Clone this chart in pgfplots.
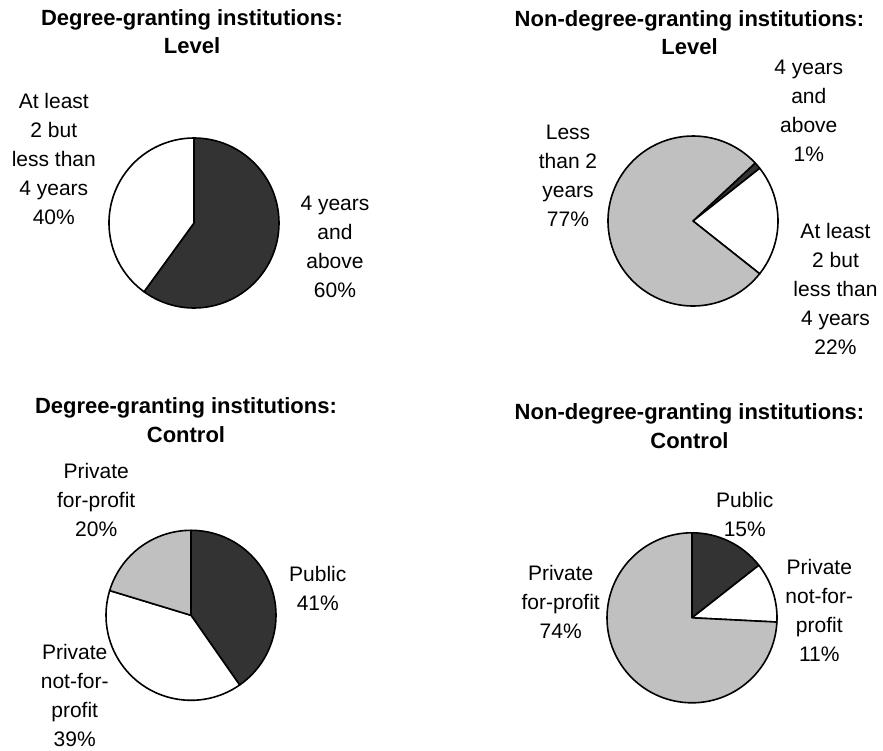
\documentclass[border=0pt]{standalone}
\usepackage{fontspec}
\setmainfont{Liberation Sans}
\usepackage{pgfplots}
\usepackage{pgfplotstable}
\pgfplotsset{compat=1.18}
\definecolor{dk}{HTML}{333333}
\definecolor{lg}{HTML}{C0C0C0}
\tikzset{
  lab/.style={inner sep=0pt,align=center,font=\fontsize{21}{29}\selectfont},
  ttl/.style={inner sep=0pt,align=center,font=\bfseries\fontsize{22}{28.5}\selectfont}}

% value = percent of the pie, col = fill colour; slices run clockwise
\pgfplotstableread{
value col
60.0 dk
40.0 white
}\degLevel
\pgfplotstableread{
value col
1.3 dk
21.3 white
77.4 lg
}\nondegLevel
\pgfplotstableread{
value col
40.3 dk
39.4 white
20.3 lg
}\degControl
\pgfplotstableread{
value col
14.4 dk
11.4 white
74.2 lg
}\nondegControl

\def\pieR{85pt}
% #1 table, #2 cx, #3 cy, #4 start angle
\newcommand\pie[4]{%
  \pgfplotstablegetrowsof{#1}%
  \pgfmathtruncatemacro\lastrow{\pgfplotsretval-1}%
  \pgfmathsetmacro\cur{#4}%
  \pgfplotsforeachungrouped \i in {0,...,\lastrow}{%
    \pgfplotstablegetelem{\i}{value}\of{#1}\let\v\pgfplotsretval
    \pgfplotstablegetelem{\i}{col}\of{#1}\let\c\pgfplotsretval
    \pgfmathsetmacro\nxt{\cur-3.6*\v}%
    \edef\temp{\noexpand\filldraw[fill=\c,draw=black,line width=1.6pt,line join=round]
      (axis cs:#2,#3) -- ++(\cur:\pieR) arc[start angle=\cur,end angle=\nxt,radius=\pieR] -- cycle;}%
    \temp
    \let\cur\nxt
  }%
}

\begin{document}
\begin{tikzpicture}
\begin{axis}[x=1pt,y=1pt,xmin=0,xmax=883,ymin=0,ymax=750,
  hide axis,scale only axis,clip=false]
\path (axis cs:0,0) rectangle (axis cs:883,750);

\pie{\degLevel}{194}{527}{90}
\pie{\nondegLevel}{693}{529}{43}
\pie{\degControl}{191}{134.7}{90}
\pie{\nondegControl}{692}{132.2}{90}

\node[ttl] at (axis cs:192,718.5) {Degree-granting institutions:\\Level};
\node[ttl] at (axis cs:689.5,717.5) {Non-degree-granting institutions:\\Level};
\node[ttl] at (axis cs:186,329.7) {Degree-granting institutions:\\Control};
\node[ttl] at (axis cs:689.5,324) {Non-degree-granting institutions:\\Control};

\node[lab] at (axis cs:53.8,590.8) {At least\\2 but\\less than\\4 years\\40\%};
\node[lab] at (axis cs:335,503.5) {4 years\\and\\above\\60\%};
\node[lab] at (axis cs:568,574) {Less\\than 2\\years\\77\%};
\node[lab] at (axis cs:808.8,639.5) {4 years\\and\\above\\1\%};
\node[lab] at (axis cs:835.5,461.3) {At least\\2 but\\less than\\4 years\\22\%};
\node[lab] at (axis cs:96.2,250.5) {Private\\for-profit\\20\%};
\node[lab] at (axis cs:317.8,161.7) {Public\\41\%};
\node[lab] at (axis cs:74.7,54.2) {Private\\not-for-\\profit\\39\%};
\node[lab] at (axis cs:744.8,235.5) {Public\\15\%};
\node[lab] at (axis cs:819.3,140) {Private\\not-for-\\profit\\11\%};
\node[lab] at (axis cs:560.7,148.3) {Private\\for-profit\\74\%};
\end{axis}
\end{tikzpicture}
\end{document}
